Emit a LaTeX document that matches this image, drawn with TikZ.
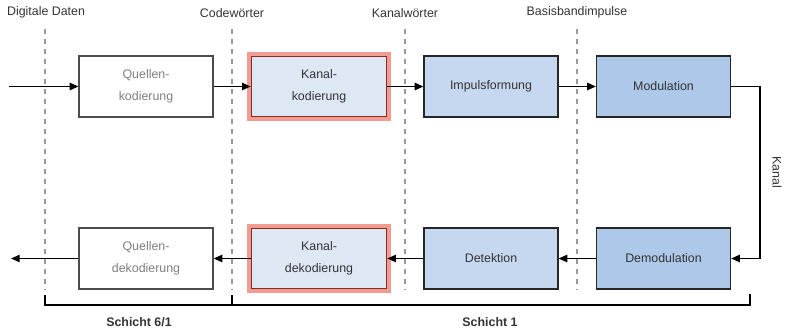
\documentclass[tikz,border=0pt]{standalone}
\usepackage{fontspec}
\setmainfont{Liberation Sans}
\usetikzlibrary{arrows.meta}
\definecolor{txt}{HTML}{333333}
\definecolor{graytxt}{HTML}{808080}
\definecolor{kanalfill}{HTML}{DEE8F5}
\definecolor{impfill}{HTML}{C6D8EF}
\definecolor{modfill}{HTML}{ADC8E8}
\definecolor{halo}{HTML}{F19C90}
\definecolor{darkred}{HTML}{8E2A22}
\definecolor{dashgray}{HTML}{999999}
\tikzset{
  blk/.style={draw=black!85, line width=0.9pt, minimum width=100.5pt, minimum height=45.75pt, inner sep=0pt, align=center, font=\fontsize{9.3}{16.5}\selectfont, text=txt},
  srcblk/.style={blk, draw=black!70, fill=white, text=graytxt},
  kanblk/.style={blk, fill=kanalfill, draw=darkred, line width=1.2pt},
  impblk/.style={blk, fill=impfill},
  modblk/.style={blk, fill=modfill},
  conn/.style={line width=1.2pt, -{Triangle[length=6.5pt,width=5.5pt]}},
  sep/.style={dashgray, line width=0.8pt, dash pattern=on 4pt off 3.5pt},
  toplbl/.style={font=\fontsize{9.3}{11}\selectfont, text=txt},
  brk/.style={line width=1.6pt},
  layerlbl/.style={font=\bfseries\fontsize{9.3}{11}\selectfont, text=txt}
}
\begin{document}
\begin{tikzpicture}[x=0.75pt,y=-0.75pt]
\useasboundingbox (0,0) rectangle (787,329);
% separators
\foreach \xx/\nm in {45/a,232/b,405/c,577/d} {
  \draw[sep] (\xx,29) -- (\xx,290);
}
\node[toplbl] (l1) at (46,12) {Digitale Daten};
\node[toplbl] (l2) at (232,13) {Codewörter};
\node[toplbl] (l3) at (405,13) {Kanalwörter};
\node[toplbl] (l4) at (577,12) {Basisbandimpulse};
% halos
\draw[halo, line width=6.5pt] (251.5,56.5) rectangle (386.5,116.5);
\draw[halo, line width=6.5pt] (251.5,228.5) rectangle (386.5,288.5);
% blocks
\node[srcblk] (qk) at (146,86.5) {Quellen-\\kodierung};
\node[kanblk, minimum width=101.25pt, minimum height=45pt] (kk) at (319,86.5) {Kanal-\\kodierung};
\node[impblk] (imp) at (491,86.5) {Impulsformung};
\node[modblk] (mod) at (663.5,86.5) {Modulation};
\node[srcblk] (qd) at (146,258.5) {Quellen-\\dekodierung};
\node[kanblk, minimum width=101.25pt, minimum height=45pt] (kd) at (319,258.5) {Kanal-\\dekodierung};
\node[impblk] (det) at (491,258.5) {Detektion};
\node[modblk] (dem) at (663.5,258.5) {Demodulation};
\coordinate (in) at (9,86.5);
\coordinate (out) at (11,258.5);
\coordinate (c1) at (760,86.5);
\coordinate (c2) at (760,258.5);
% connectors
\draw[conn] (in) -- (qk);
\draw[conn] (qk) -- (kk);
\draw[conn] (kk) -- (imp);
\draw[conn] (imp) -- (mod);
\draw[conn] (mod.east) -- (c1) -- (c2) -- (dem.east);
\draw[conn] (dem) -- (det);
\draw[conn] (det) -- (kd);
\draw[conn] (kd) -- (qd);
\draw[conn] (qd) -- (out);
\node[toplbl, rotate=-90] (kanal) at (777,172) {Kanal};
% brackets
\coordinate (b1) at (45,295);
\coordinate (b2) at (45,305);
\coordinate (b3) at (750,305);
\coordinate (b4) at (750,294);
\coordinate (bm1) at (232,295);
\coordinate (bm2) at (232,305);
\draw[brk] (b1) -- (b2) -- (b3) -- (b4);
\draw[brk] (bm1) -- (bm2);
\node[layerlbl] (s61) at (139,322) {Schicht 6/1};
\node[layerlbl] (s1) at (490,322) {Schicht 1};
\end{tikzpicture}
\end{document}
